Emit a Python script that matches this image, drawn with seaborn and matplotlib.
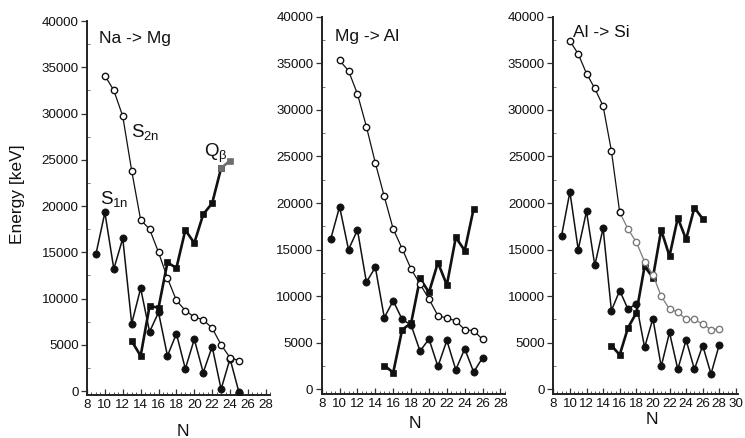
import matplotlib
matplotlib.use("Agg")
import matplotlib.pyplot as plt
import seaborn as sns
from matplotlib.ticker import MultipleLocator

# ---- Na -> Mg ----
na_s1n_n = list(range(9, 26))
na_s1n = [14800, 19300, 13200, 16500, 7300, 11100, 6400, 8500, 3800,
          6200, 2400, 5600, 2000, 4800, 200, 3500, -150]
na_qb_n = list(range(13, 25))
na_qb = [5400, 3800, 9200, 9000, 13900, 13300, 17400, 16000, 19100,
         20300, 24100, 24900]
na_s2n_n = list(range(10, 26))
na_s2n = [34100, 32500, 29700, 23800, 18500, 17500, 15000, 12200, 9800,
          8700, 8000, 7700, 6800, 5000, 3600, 3300]

# ---- Mg -> Al ----
mg_s1n_n = list(range(9, 27))
mg_s1n = [16100, 19600, 15000, 17100, 11500, 13100, 7700, 9500, 7500,
          6900, 4100, 5400, 2450, 5250, 2100, 4350, 1850, 3400]
mg_qb_n = list(range(15, 26))
mg_qb = [2550, 1800, 6400, 7100, 11900, 10400, 13600, 11200, 16300,
         14900, 19400]
mg_s2n_n = list(range(10, 27))
mg_s2n = [35300, 34200, 31700, 28200, 24300, 20700, 17200, 15100, 12900,
          11300, 9700, 7900, 7650, 7350, 6400, 6300, 5350]

# ---- Al -> Si ----
al_s1n_n = list(range(9, 29))
al_s1n = [16500, 21200, 15000, 19100, 13300, 17300, 8450, 10600, 8600,
          9200, 4500, 7600, 2450, 6100, 2150, 5300, 2150, 4700, 1650, 4800]
al_qb_n = list(range(15, 27))
al_qb = [4700, 3700, 6600, 8200, 13200, 12000, 17100, 14300, 18400,
         16100, 19500, 18300]
al_s2n_n = list(range(10, 29))
al_s2n = [37400, 36000, 33900, 32300, 30400, 25600, 19000, 17200, 15800,
          13700, 12300, 10000, 8600, 8300, 7500, 7500, 7000, 6400, 6500]

panel_titles = ["Na -> Mg", "Mg -> Al", "Al -> Si"]
x_tick_max = [28, 28, 30]

sns.set_theme(style="ticks")
plt.rcParams["font.family"] = ["Liberation Sans", "DejaVu Sans"]
plt.rcParams["mathtext.fontset"] = "custom"
plt.rcParams["mathtext.rm"] = "Liberation Sans"
plt.rcParams["mathtext.it"] = "Liberation Sans:italic"

W, H = 745, 438
fig = plt.figure(figsize=(W / 100, H / 100), dpi=100)


def rect(x0, y_top, x1, y_bot):
    return [x0 / W, 1 - y_bot / H, (x1 - x0) / W, (y_bot - y_top) / H]


axes = [
    fig.add_axes(rect(87, 21, 87 + 20.5 * 8.94, 395.2)),
    fig.add_axes(rect(321.7, 16.7, 321.7 + 20.5 * 8.94, 393.5)),
    fig.add_axes(rect(553.3, 16.7, 553.3 + 22.2 * 8.3, 393.5)),
]
xlims = [(8, 28.5), (8, 28.5), (8, 30.2)]

BLACK = "#111111"
GRAY = "#7a7a7a"


def s1n_line(ax, n, v):
    sns.lineplot(x=n, y=v, ax=ax, color=BLACK, lw=1.1, marker="o",
                 markersize=5.2, markerfacecolor=BLACK,
                 markeredgecolor=BLACK, markeredgewidth=0.5,
                 estimator=None, sort=False, zorder=3)


def qb_line(ax, n, v, color=BLACK):
    sns.lineplot(x=n, y=v, ax=ax, color=color, lw=1.9, marker="s",
                 markersize=4.6, markerfacecolor=color,
                 markeredgecolor=color, markeredgewidth=0.5,
                 estimator=None, sort=False, zorder=2)


def s2n_line(ax, n, v, color=BLACK):
    sns.lineplot(x=n, y=v, ax=ax, color=color, lw=0.9, marker="o",
                 markersize=4.6, markerfacecolor="white",
                 markeredgecolor=color, markeredgewidth=1.0,
                 estimator=None, sort=False, zorder=4)


# Na -> Mg
ax = axes[0]
qb_line(ax, na_qb_n[:-1], na_qb[:-1])
qb_line(ax, na_qb_n[-2:], na_qb[-2:], color="#6e6e6e")
s1n_line(ax, na_s1n_n, na_s1n)
s2n_line(ax, na_s2n_n, na_s2n)

# Mg -> Al
ax = axes[1]
qb_line(ax, mg_qb_n, mg_qb)
s1n_line(ax, mg_s1n_n, mg_s1n)
s2n_line(ax, mg_s2n_n, mg_s2n)

# Al -> Si
ax = axes[2]
qb_line(ax, al_qb_n, al_qb)
s1n_line(ax, al_s1n_n, al_s1n)
k = al_s2n_n.index(16)
s2n_line(ax, al_s2n_n[k:], al_s2n[k:], color=GRAY)
s2n_line(ax, al_s2n_n[:k + 1], al_s2n[:k + 1])

for ax, xl, xmax in zip(axes, xlims, x_tick_max):
    ax.set_xlim(*xl)
    ax.set_ylim(-450, 40000)
    ax.set_xticks(list(range(8, xmax + 1, 2)))
    ax.xaxis.set_minor_locator(MultipleLocator(0.5))
    ax.set_yticks(list(range(0, 40001, 5000)))
    ax.yaxis.set_minor_locator(MultipleLocator(2500))
    ax.set_xlabel("")
    ax.set_ylabel("")
    ax.tick_params(axis="x", which="major", direction="in", length=4,
                   width=0.9, color="#333333", pad=3, labelsize=9.6,
                   labelcolor=BLACK)
    ax.tick_params(axis="x", which="minor", direction="in", length=2.2,
                   width=0.7, color="#555555")
    ax.tick_params(axis="y", which="major", direction="out", length=4,
                   width=0.9, color="#333333", pad=2, labelsize=9.6,
                   labelcolor=BLACK)
    ax.tick_params(axis="y", which="minor", direction="in", length=2.5,
                   width=0.7, color="#777777")
    for side in ("left", "bottom"):
        ax.spines[side].set_linewidth(1.4)
        ax.spines[side].set_color("#222222")
    sns.despine(ax=ax)
    ax.set_facecolor("white")
    if ax.get_legend():
        ax.get_legend().remove()


def ftext(x, y, s, **kw):
    fig.text(x / W, 1 - y / H, s, color=BLACK, **kw)


# panel headings
ftext(99, 43.3, panel_titles[0], fontsize=12.5, va="baseline")
ftext(335, 40.5, panel_titles[1], fontsize=12.5, va="baseline")
ftext(572.7, 36.7, panel_titles[2], fontsize=12.5, va="baseline")

# series labels
ftext(131, 137, r"$\mathregular{S_{2n}}$", fontsize=13.5, va="baseline")
ftext(99.5, 203.5, r"$\mathregular{S_{1n}}$", fontsize=13.5, va="baseline")
ftext(204, 157, r"$\mathregular{Q_{\beta}}$", fontsize=13.5, va="baseline")

# axis titles
ftext(18, 194, "Energy [keV]", fontsize=12.5, rotation=90,
      ha="center", va="center")
ftext(182.5, 431, "N", fontsize=12.5, ha="center", va="center")
ftext(415, 423, "N", fontsize=12.5, ha="center", va="center")
ftext(652, 419, "N", fontsize=12.5, ha="center", va="center")

fig.savefig("out.png", dpi=100, facecolor="white")
